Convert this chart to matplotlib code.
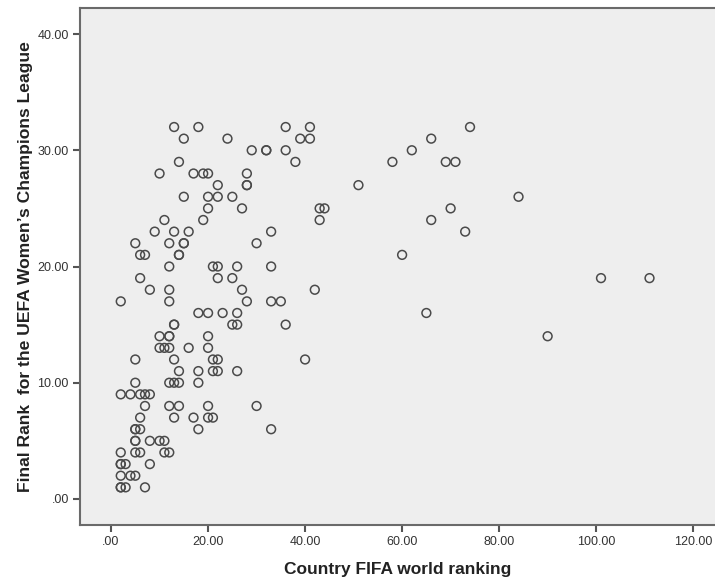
import matplotlib
matplotlib.use("Agg")
import matplotlib.pyplot as plt
import numpy as np

# Country FIFA world ranking vs final UEFA Women's Champions League rank
# values, grouped by rank row
fifa_rank = [
    13, 18, 36, 41, 74,                 # 32
    15, 24, 39, 41, 66,                 # 31
    29, 32, 32, 36, 62,                 # 30
    14, 38, 58, 69, 71,                 # 29
    10, 17, 19, 20, 28,                 # 28
    22, 28, 28, 51,                     # 27
    15, 20, 22, 25, 84,                 # 26
    20, 27, 43, 44, 70,                 # 25
    11, 19, 43, 66,                     # 24
    9, 13, 16, 33, 73,                  # 23
    5, 12, 15, 15, 30,                  # 22
    6, 7, 14, 14, 60,                   # 21
    12, 21, 22, 26, 33,                 # 20
    6, 22, 25, 101, 111,                # 19
    8, 12, 27, 42,                      # 18
    2, 12, 28, 33, 35,                  # 17
    18, 20, 23, 26, 65,                 # 16
    13, 13, 25, 26, 36,                 # 15
    10, 12, 12, 20, 90,                 # 14
    10, 11, 12, 16, 20,                 # 13
    5, 13, 21, 22, 40,                  # 12
    14, 18, 21, 22, 26,                 # 11
    5, 12, 13, 14, 18,                  # 10
    2, 4, 6, 7, 8,                      # 9
    7, 12, 14, 20, 30,                  # 8
    6, 13, 17, 20, 21,                  # 7
    5, 5, 6, 18, 33,                    # 6
    5, 5, 8, 10, 11,                    # 5
    2, 5, 6, 11, 12,                    # 4
    2, 2, 3, 8,                         # 3
    2, 4, 5,                            # 2
    2, 2, 3, 7,                         # 1
]
final_rank = (
    [32] * 5 + [31] * 5 + [30] * 5 + [29] * 5 + [28] * 5 + [27] * 4
    + [26] * 5 + [25] * 5 + [24] * 4 + [23] * 5 + [22] * 5 + [21] * 5
    + [20] * 5 + [19] * 5 + [18] * 4 + [17] * 5 + [16] * 5 + [15] * 5
    + [14] * 5 + [13] * 5 + [12] * 5 + [11] * 5 + [10] * 5 + [9] * 5
    + [8] * 5 + [7] * 5 + [6] * 5 + [5] * 5 + [4] * 5 + [3] * 4
    + [2] * 3 + [1] * 4
)

x_ticks = [0, 20, 40, 60, 80, 100, 120]
y_ticks = [0, 10, 20, 30, 40]

plt.rcParams['font.family'] = ['Liberation Sans', 'DejaVu Sans']

fig = plt.figure(figsize=(7.15, 5.82), dpi=100)
ax = fig.add_axes([80 / 715, 1 - 525 / 582, 1 - 80 / 715, (525 - 8) / 582])
ax.set_facecolor('#eeeeee')

ax.scatter(fifa_rank, final_rank, s=40, facecolors='none',
           edgecolors='#4a4a4a', linewidths=1.1, zorder=3)

ax.set_xlim(-6.4, 124.5)
ax.set_ylim(-2.24, 42.24)
ax.set_xticks(x_ticks)
ax.set_yticks(y_ticks)
ax.set_xticklabels(['.00' if v == 0 else '%.2f' % v for v in x_ticks])
ax.set_yticklabels(['.00' if v == 0 else '%.2f' % v for v in y_ticks])
ax.tick_params(direction='out', length=5, width=1.5, color='#555555',
               labelsize=9, labelcolor='#333333', pad=3)

for side in ['left', 'bottom', 'top']:
    ax.spines[side].set_color('#6a6a6a')
    ax.spines[side].set_linewidth(1.5)
ax.spines['right'].set_visible(False)

ax.set_xlabel('Country FIFA world ranking', fontsize=12.5, fontweight='bold',
              color='#222222', labelpad=10)
ax.set_ylabel('Final Rank  for the UEFA Women\u2019s Champions League',
              fontsize=12.6, fontweight='bold', color='#222222', labelpad=3)

fig.savefig('out.png', dpi=100)
